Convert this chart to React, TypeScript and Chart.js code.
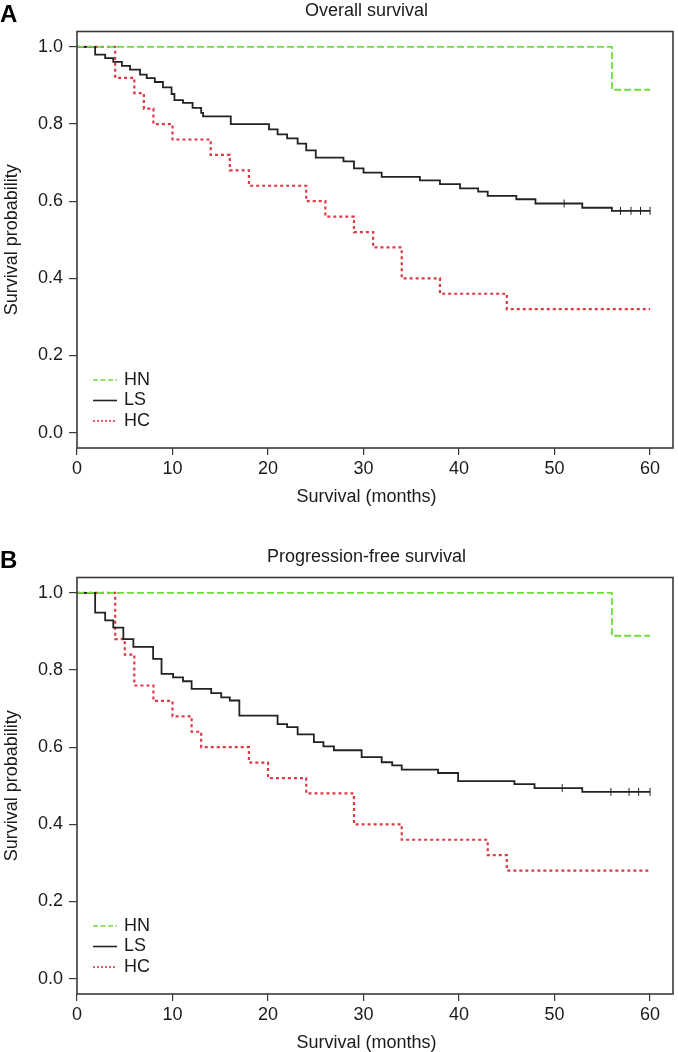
import React, { useEffect, useRef } from "react";
import { Chart, registerables } from "chart.js";

Chart.register(...registerables);

// ---------- data ----------
const xTicks = [0, 10, 20, 30, 40, 50, 60];
const yTicks = [0, 0.2, 0.4, 0.6, 0.8, 1.0];
const groupLabels = ["HN", "LS", "HC"];

// A: Overall survival
const osHNTime = [0, 56, 60];
const osHNSurv = [1, 0.889, 0.889];
const osLSTime = [0, 1.9, 2.95, 3.8, 4.7, 5.55, 6.6, 7.3, 8.15, 9.0, 9.9, 10.2, 11.1, 12.1, 13.0, 13.2, 16.1, 20.1, 21.0, 22.0, 23.1, 24.0, 25.0, 27.9, 29.0, 30.0, 31.9, 35.9, 38.0, 40.1, 42.0, 43.0, 46.0, 48.0, 52.9, 56.0, 60];
const osLSSurv = [1, 0.98, 0.971, 0.961, 0.951, 0.941, 0.928, 0.919, 0.909, 0.895, 0.878, 0.862, 0.855, 0.842, 0.829, 0.82, 0.8, 0.786, 0.773, 0.763, 0.749, 0.732, 0.713, 0.703, 0.685, 0.674, 0.663, 0.654, 0.644, 0.633, 0.625, 0.614, 0.605, 0.594, 0.583, 0.575, 0.575];
const osLSCensor = [51.0, 56.9, 58.0, 59.0, 60];
const osHCTime = [0, 4, 6, 7, 8, 10, 14, 16, 18, 24, 26, 29, 31, 34, 38, 45, 60];
const osHCSurv = [1, 0.92, 0.88, 0.84, 0.8, 0.76, 0.72, 0.68, 0.64, 0.6, 0.56, 0.52, 0.48, 0.4, 0.36, 0.32, 0.32];

// B: Progression-free survival
const pfsHNTime = [0, 56, 60];
const pfsHNSurv = [1, 0.889, 0.889];
const pfsLSTime = [0, 1.9, 2.95, 3.8, 4.85, 5.9, 7.97, 8.85, 10.06, 11.1, 12.0, 14.05, 15.1, 16.0, 17.0, 21.0, 22.0, 23.1, 24.8, 25.8, 26.9, 29.8, 31.9, 33.0, 34.0, 37.8, 39.9, 45.8, 47.9, 52.9, 60];
const pfsLSSurv = [1, 0.949, 0.929, 0.91, 0.88, 0.86, 0.829, 0.79, 0.781, 0.771, 0.751, 0.74, 0.729, 0.721, 0.682, 0.66, 0.652, 0.633, 0.613, 0.602, 0.592, 0.574, 0.561, 0.553, 0.542, 0.533, 0.512, 0.504, 0.494, 0.484, 0.484];
const pfsLSCensor = [50.8, 55.9, 57.8, 58.8, 60];
const pfsHCTime = [0, 4, 5, 6, 8, 10, 12, 13, 18, 20, 24, 29, 34, 43, 45, 60];
const pfsHCSurv = [1, 0.88, 0.84, 0.76, 0.72, 0.68, 0.64, 0.6, 0.56, 0.52, 0.48, 0.4, 0.36, 0.32, 0.28, 0.28];

// ---------- styles ----------
const FONT = '"Liberation Sans", Arial, Helvetica, sans-serif';
const GREEN = "#6edc3c";
const BLACK = "#222222";
const RED = "#dc3a44";
const AXIS = "#3a3a3a";
const TEXT = "#1a1a1a";
const HN_DASH = [7, 3];
const HC_DASH = [3, 3];

Chart.defaults.font.family = FONT;

function stepAt(ts: number[], ss: number[], t: number) {
  let v = ss[0];
  for (let i = 0; i < ts.length; i++) if (ts[i] <= t) v = ss[i];
  return v;
}

const toPts = (t: number[], s: number[]) => t.map((x, i) => ({ x, y: s[i] }));

type PanelProps = {
  letter: string;
  title: string;
  height: number;
  hnT: number[]; hnS: number[];
  lsT: number[]; lsS: number[];
  hcT: number[]; hcS: number[];
  cens: number[];
};

function Panel(p: PanelProps) {
  const ref = useRef<HTMLCanvasElement | null>(null);
  useEffect(() => {
    if (!ref.current) return;
    const framePlugin = {
      id: "frame",
      afterDraw(chart: any) {
        const { ctx, chartArea: a, scales } = chart;
        ctx.save();
        // box
        ctx.strokeStyle = AXIS;
        ctx.lineWidth = 1.6;
        ctx.setLineDash([]);
        ctx.strokeRect(a.left, a.top, a.right - a.left, a.bottom - a.top);
        // panel letter
        ctx.fillStyle = "#000";
        ctx.font = `bold 24px ${FONT}`;
        ctx.textAlign = "left";
        ctx.textBaseline = "middle";
        ctx.fillText(p.letter, 0, 15);
        // title
        const cx = scales.x.getPixelForValue(30) + 3;
        ctx.fillStyle = TEXT;
        ctx.font = `18px ${FONT}`;
        ctx.textAlign = "center";
        ctx.fillText(p.title, cx, 11);
        // x-axis title
        ctx.fillText("Survival (months)", cx, a.bottom + 49);
        // y-axis title
        ctx.save();
        ctx.translate(12, (a.top + a.bottom) / 2);
        ctx.rotate(-Math.PI / 2);
        ctx.fillText("Survival probability", 0, 0);
        ctx.restore();
        // legend
        const styles = [
          { c: GREEN, d: [5, 2.5], w: 1.6 },
          { c: BLACK, d: [] as number[], w: 1.6 },
          { c: RED, d: [2, 2], w: 1.6 },
        ];
        const ys = [a.bottom - 68, a.bottom - 47.5, a.bottom - 27];
        groupLabels.forEach((lab, i) => {
          const st = styles[i];
          ctx.strokeStyle = st.c;
          ctx.lineWidth = st.w;
          ctx.setLineDash(st.d);
          ctx.beginPath();
          ctx.moveTo(a.left + 16, ys[i]);
          ctx.lineTo(a.left + 40, ys[i]);
          ctx.stroke();
          ctx.setLineDash([]);
          ctx.fillStyle = TEXT;
          ctx.textAlign = "left";
          ctx.textBaseline = "middle";
          ctx.fillText(lab, a.left + 47, ys[i]);
        });
        ctx.restore();
      },
    };

    const chart = new Chart(ref.current, {
      type: "line",
      data: {
        datasets: [
          {
            label: "HN",
            data: toPts(p.hnT, p.hnS),
            borderColor: GREEN,
            borderWidth: 1.8,
            borderDash: HN_DASH,
            stepped: true,
            pointRadius: 0,
            fill: false,
          },
          {
            label: "LS",
            data: toPts(p.lsT, p.lsS),
            borderColor: BLACK,
            borderWidth: 1.8,
            stepped: true,
            pointRadius: 0,
            fill: false,
          },
          {
            label: "HC",
            data: toPts(p.hcT, p.hcS),
            borderColor: RED,
            borderWidth: 2.2,
            borderDash: HC_DASH,
            stepped: true,
            pointRadius: 0,
            fill: false,
          },
          {
            label: "LS censored",
            data: p.cens.map((t) => ({ x: t, y: stepAt(p.lsT, p.lsS, t) })),
            showLine: false,
            pointStyle: "line",
            rotation: 90,
            pointRadius: 4,
            pointBorderWidth: 1,
            borderColor: BLACK,
            backgroundColor: BLACK,
          },
        ],
      },
      options: {
        responsive: false,
        animation: false,
        events: [],
        layout: { padding: { left: 0, right: 2.5, top: 31.5, bottom: p.height - 448 - 40 } },
        plugins: {
          legend: { display: false },
          tooltip: { enabled: false },
          title: { display: false },
        },
        scales: {
          x: {
            type: "linear",
            min: 0,
            max: 62.4,
            afterBuildTicks: (s: any) => {
              s.ticks = xTicks.map((v) => ({ value: v }));
            },
            afterFit: (s: any) => {
              s.height = 40;
            },
            grid: { drawOnChartArea: false, drawTicks: true, tickLength: 7, color: AXIS, lineWidth: 1.2 },
            border: { display: false },
            ticks: {
              padding: 3,
              color: TEXT,
              font: { family: FONT, size: 18 },
              maxRotation: 0,
              autoSkip: false,
              callback: (v: any) => String(v),
            },
          },
          y: {
            type: "linear",
            min: -0.04,
            max: 1.04,
            afterBuildTicks: (s: any) => {
              s.ticks = yTicks.map((v) => ({ value: v }));
            },
            afterFit: (s: any) => {
              s.width = 77;
            },
            grid: { drawOnChartArea: false, drawTicks: true, tickLength: 8, color: AXIS, lineWidth: 1.2 },
            border: { display: false },
            ticks: {
              padding: 6,
              color: TEXT,
              font: { family: FONT, size: 18 },
              autoSkip: false,
              callback: (v: any) => Number(v).toFixed(1),
            },
          },
        },
      },
      plugins: [framePlugin],
    } as any);
    return () => chart.destroy();
  }, []);
  return <canvas ref={ref} width={678} height={p.height} style={{ display: "block" }} />;
}

export default function App() {
  useEffect(() => {
    document.body.style.margin = "0";
    document.body.style.background = "#fff";
  }, []);
  return (
    <div style={{ width: 678, height: 1052, overflow: "hidden", background: "#fff" }}>
      <Panel
        letter="A"
        title="Overall survival"
        height={546}
        hnT={osHNTime} hnS={osHNSurv}
        lsT={osLSTime} lsS={osLSSurv}
        hcT={osHCTime} hcS={osHCSurv}
        cens={osLSCensor}
      />
      <Panel
        letter="B"
        title="Progression-free survival"
        height={506}
        hnT={pfsHNTime} hnS={pfsHNSurv}
        lsT={pfsLSTime} lsS={pfsLSSurv}
        hcT={pfsHCTime} hcS={pfsHCSurv}
        cens={pfsLSCensor}
      />
    </div>
  );
}
